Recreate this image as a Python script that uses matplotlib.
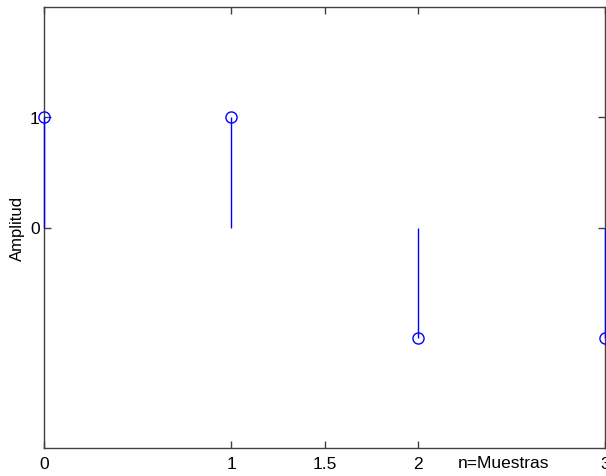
import numpy as np
import matplotlib
matplotlib.use('Agg')
import matplotlib.pyplot as plt
from matplotlib.transforms import blended_transform_factory

n = [0, 1, 2, 3]
amplitud = [1, 1, -1, -1]
xticks = [0, 1, 1.5, 2, 3]
xticklabels = ['0', '1', '1.5', '2', '3']
yticks = [0, 1]

plt.rcParams['font.family'] = ['Liberation Sans', 'DejaVu Sans']
plt.rcParams['font.size'] = 12.5

fig = plt.figure(figsize=(6.06, 4.77), dpi=100)
ax = fig.add_axes([44 / 606, 28 / 477, 561 / 606, 441 / 477])

ax.vlines(n, 0, amplitud, color='#0000ff', lw=1, clip_on=False, zorder=3)
ax.plot(n, amplitud, 'o', mfc='none', mec='#0000ff', ms=8, mew=1,
        clip_on=False, zorder=4)

ax.set_xlim(0, 3)
ax.set_ylim(-2, 2)
ax.set_xticks(xticks)
ax.set_xticklabels(xticklabels)
ax.set_yticks(yticks)
ax.tick_params(direction='in', length=5, width=1, color='#404040',
               top=True, right=True)
ax.tick_params(axis='x', pad=6)
ax.tick_params(axis='y', pad=3)
for s in ax.spines.values():
    s.set_color('#404040')
    s.set_linewidth(1)

ax.set_ylabel('Amplitud', fontsize=12)
ax.yaxis.set_label_coords(-0.034, 0.5)

# "n=Muestras" sits on the tick-label row, not as a normal xlabel
trans = blended_transform_factory(ax.transData, fig.transFigure)
ax.text(2.46, 13 / 477, 'n=Muestras', transform=trans,
        ha='center', va='center')

fig.savefig('out.png', dpi=100)
